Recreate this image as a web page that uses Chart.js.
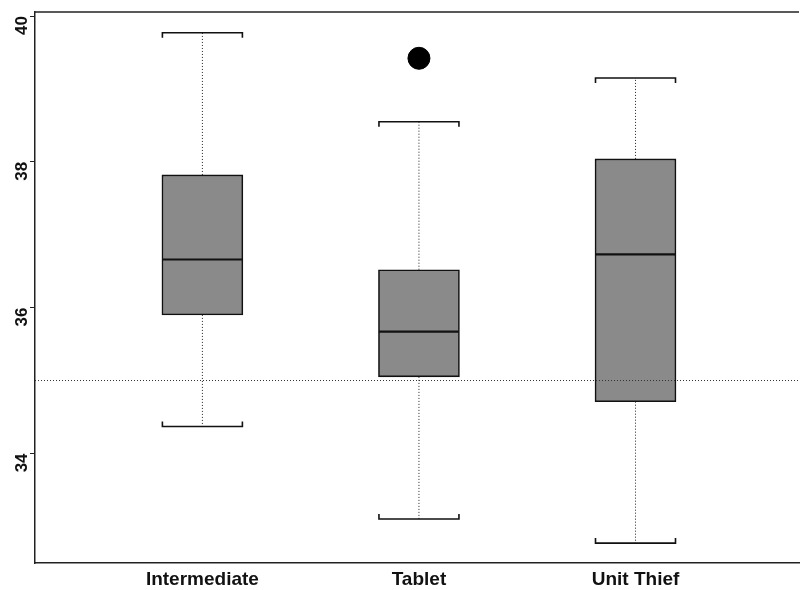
<!DOCTYPE html>
<html lang="en">
<head>
    <meta charset="UTF-8">
    <title>Boxplot</title>
    <script src="https://cdn.jsdelivr.net/npm/chart.js"></script>
    <style>
        html, body {
            margin: 0;
            background: #ffffff;
            overflow: hidden;
        }
        .chart-container {
            width: 811px;
            height: 590px;
        }
        canvas {
            display: block;
        }
    </style>
</head>
<body>
    <div class="chart-container">
        <canvas id="boxChart"></canvas>
    </div>
    <script>
        // data
        const categories = ['Intermediate', 'Tablet', 'Unit Thief'];
        const whiskerLow = [34.37, 33.10, 32.77];
        const quartile1 = [35.90, 35.05, 34.71];
        const medians = [36.66, 35.67, 36.73];
        const quartile3 = [37.82, 36.52, 38.04];
        const whiskerHigh = [39.77, 38.55, 39.15];
        const outliers = [{ group: 2, value: 39.42 }];
        const refValue = 35;
        const yTicks = [34, 36, 38, 40];

        const xMin = 0.227, xMax = 3.755;
        const yMin = 32.497, yMax = 40.055;

        const boxData = categories.map((c, i) => ({ x: i + 1, y: [quartile1[i], quartile3[i]] }));

        // whiskers, caps and medians drawn with the chart's scales
        const boxExtras = {
            id: 'boxExtras',
            afterDatasetsDraw(chart) {
                const ctx = chart.ctx;
                const xs = chart.scales.x, ys = chart.scales.y;
                const half = 40;
                ctx.save();
                categories.forEach((c, i) => {
                    const cx = xs.getPixelForValue(i + 1);
                    const pLow = ys.getPixelForValue(whiskerLow[i]);
                    const pQ1 = ys.getPixelForValue(quartile1[i]);
                    const pMed = ys.getPixelForValue(medians[i]);
                    const pQ3 = ys.getPixelForValue(quartile3[i]);
                    const pHigh = ys.getPixelForValue(whiskerHigh[i]);

                    // dotted whiskers
                    ctx.strokeStyle = '#222';
                    ctx.lineWidth = 1;
                    ctx.setLineDash([1, 2]);
                    ctx.beginPath();
                    ctx.moveTo(cx, pQ3);
                    ctx.lineTo(cx, pHigh);
                    ctx.moveTo(cx, pQ1);
                    ctx.lineTo(cx, pLow);
                    ctx.stroke();

                    // caps
                    ctx.setLineDash([]);
                    ctx.lineWidth = 1.6;
                    ctx.strokeStyle = '#111';
                    ctx.beginPath();
                    ctx.moveTo(cx - half, pHigh + 5);
                    ctx.lineTo(cx - half, pHigh);
                    ctx.lineTo(cx + half, pHigh);
                    ctx.lineTo(cx + half, pHigh + 5);
                    ctx.moveTo(cx - half, pLow - 5);
                    ctx.lineTo(cx - half, pLow);
                    ctx.lineTo(cx + half, pLow);
                    ctx.lineTo(cx + half, pLow - 5);
                    ctx.stroke();

                    // median
                    ctx.lineWidth = 2.2;
                    ctx.beginPath();
                    ctx.moveTo(cx - half, pMed);
                    ctx.lineTo(cx + half, pMed);
                    ctx.stroke();
                });

                // top frame line
                const a = chart.chartArea;
                ctx.lineWidth = 1.5;
                ctx.strokeStyle = '#222';
                ctx.beginPath();
                ctx.moveTo(a.left, a.top);
                ctx.lineTo(a.right, a.top);
                ctx.stroke();
                ctx.restore();
            }
        };

        const ctx = document.getElementById('boxChart').getContext('2d');
        const chart = new Chart(ctx, {
            type: 'bar',
            data: {
                datasets: [
                    {
                        type: 'scatter',
                        data: outliers.map(o => ({ x: o.group, y: o.value })),
                        backgroundColor: '#000',
                        borderColor: '#000',
                        pointRadius: 11,
                        order: 0
                    },
                    {
                        type: 'line',
                        data: [{ x: xMin, y: refValue }, { x: xMax, y: refValue }],
                        borderColor: '#333',
                        borderWidth: 1,
                        borderDash: [1, 2],
                        pointRadius: 0,
                        order: 1
                    },
                    {
                        type: 'bar',
                        data: boxData,
                        backgroundColor: '#8a8a8a',
                        borderColor: '#111',
                        borderWidth: 1.6,
                        borderSkipped: false,
                        barThickness: 81,
                        order: 2
                    }
                ]
            },
            options: {
                responsive: true,
                maintainAspectRatio: false,
                animation: false,
                layout: { padding: { top: 10, left: 0, right: 0, bottom: 0 } },
                plugins: {
                    legend: { display: false },
                    tooltip: { enabled: false }
                },
                scales: {
                    x: {
                        type: 'linear',
                        offset: false,
                        min: xMin,
                        max: xMax,
                        grid: { display: false, drawTicks: false, offset: false },
                        border: { display: true, color: '#222', width: 1.5 },
                        afterBuildTicks: s => { s.ticks = categories.map((c, i) => ({ value: i + 1 })); },
                        afterFit: s => {
                            s.height = 27;
                            s.paddingLeft = 0;
                            s.paddingRight = 0;
                        },
                        ticks: {
                            padding: 5,
                            color: '#111',
                            font: { family: 'Liberation Sans', size: 19, weight: 'bold' },
                            callback: v => categories[v - 1]
                        }
                    },
                    y: {
                        min: yMin,
                        max: yMax,
                        grid: { display: true, drawOnChartArea: false, drawTicks: true, tickLength: 5, color: '#222' },
                        border: { display: true, color: '#222', width: 1.5 },
                        afterBuildTicks: s => { s.ticks = yTicks.map(v => ({ value: v })); },
                        afterFit: s => {
                            s.width = 35;
                            s.paddingTop = 0;
                            s.paddingBottom = 0;
                        },
                        ticks: {
                            minRotation: 90,
                            maxRotation: 90,
                            padding: 8,
                            color: '#111',
                            font: { family: 'Liberation Sans', size: 17, weight: 'bold' }
                        }
                    }
                }
            },
            plugins: [boxExtras]
        });
    </script>
</body>
</html>
